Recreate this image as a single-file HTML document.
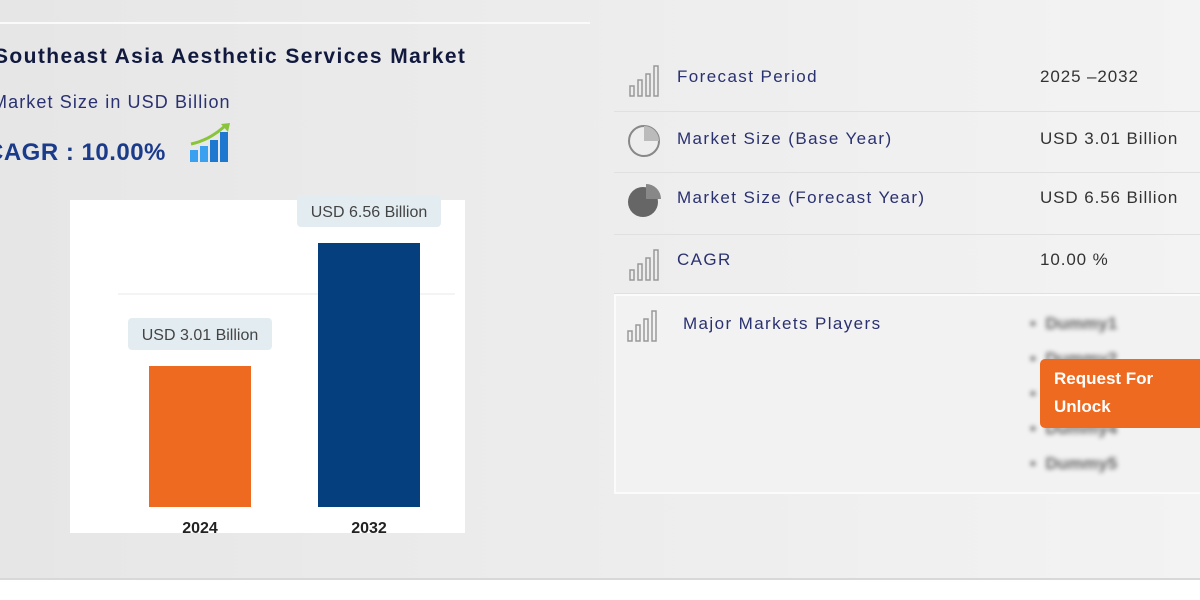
<!DOCTYPE html>
<html><head><meta charset="utf-8"><style>
body{margin:0;width:1200px;height:600px;overflow:hidden;font-family:"Liberation Sans",sans-serif;background:#fff;position:relative}
.bg{position:absolute;left:0;top:0;width:1200px;height:580px;background:linear-gradient(90deg,#e6e6e6 0%,#ececec 45%,#f3f3f3 100%)}
.abs{position:absolute}
.row{position:absolute;left:614px;width:586px;border-bottom:1.5px solid #e0e0e0}
.lbl{position:absolute;left:677px;font-size:17px;color:#2a3170;letter-spacing:1.4px}
.val{position:absolute;left:1040px;font-size:17px;color:#333;letter-spacing:0.9px}
</style></head><body>
<div class="bg"></div>
<div class="abs" style="left:0;top:22px;width:590px;height:2px;background:#fafafa"></div>
<div class="abs" style="left:0;top:578px;width:1200px;height:2px;background:#d8d8d8"></div>
<div class="abs" style="left:-6px;top:45px;font-size:21px;font-weight:bold;color:#111a3e;letter-spacing:1.4px">Southeast Asia Aesthetic Services Market</div>
<div class="abs" style="left:-8px;top:92px;font-size:18px;color:#2a3170;letter-spacing:1.1px">Market Size in USD Billion</div>
<div class="abs" style="left:-14px;top:139px;font-size:24px;font-weight:bold;color:#1a3a8a;letter-spacing:0.5px">CAGR : 10.00%</div>
<svg class="abs" style="left:188px;top:122px" width="44" height="42">
<rect x="2" y="28" width="8" height="12" fill="#3aa0f0"/><rect x="12" y="24" width="8" height="16" fill="#3aa0f0"/><rect x="22" y="18" width="8" height="22" fill="#1e78d0"/><rect x="32" y="10" width="8" height="30" fill="#1e78d0"/>
<path d="M3 22 Q22 18 38 3" stroke="#8ac43a" stroke-width="3" fill="none"/><path d="M33 2 L42 1 L40 10Z" fill="#8ac43a"/></svg>
<svg class="abs" id="chart" style="left:0;top:0" width="600" height="580"></svg>

<div class="row" style="top:47px;height:64px"></div>
<div class="row" style="top:111px;height:61px"></div>
<div class="row" style="top:172px;height:62px"></div>
<div class="row" style="top:234px;height:59px"></div>
<div class="abs" style="left:614px;top:294px;width:590px;height:196px;border:2px solid #fbfbfb;background:#f2f2f2"></div>
<svg class="abs" style="left:627px;top:62px" width="34" height="36"><g stroke="#999" fill="none" stroke-width="1.5"><rect x="3" y="24" width="4" height="10"/><rect x="11" y="18" width="4" height="16"/><rect x="19" y="12" width="4" height="22"/><rect x="27" y="4" width="4" height="30"/></g></svg>
<svg class="abs" style="left:625px;top:122px" width="38" height="38"><circle cx="19" cy="19" r="15" stroke="#888" stroke-width="2" fill="none"/><path d="M19 19 L19 4 A15 15 0 0 1 34 19Z" fill="#bbb"/></svg>
<svg class="abs" style="left:625px;top:182px" width="38" height="38"><circle cx="18" cy="20" r="15" fill="#666"/><path d="M21 17 L21 2 A15 15 0 0 1 36 17Z" fill="#888"/></svg>
<svg class="abs" style="left:627px;top:246px" width="34" height="36"><g stroke="#999" fill="none" stroke-width="1.5"><rect x="3" y="24" width="4" height="10"/><rect x="11" y="18" width="4" height="16"/><rect x="19" y="12" width="4" height="22"/><rect x="27" y="4" width="4" height="30"/></g></svg>
<svg class="abs" style="left:625px;top:307px" width="34" height="36"><g stroke="#999" fill="none" stroke-width="1.5"><rect x="3" y="24" width="4" height="10"/><rect x="11" y="18" width="4" height="16"/><rect x="19" y="12" width="4" height="22"/><rect x="27" y="4" width="4" height="30"/></g></svg>
<div class="lbl" style="top:67px">Forecast Period</div>
<div class="val" style="top:67px">2025 –2032</div>
<div class="lbl" style="top:129px">Market Size (Base Year)</div>
<div class="val" style="top:129px">USD 3.01 Billion</div>
<div class="lbl" style="top:188px">Market Size (Forecast Year)</div>
<div class="val" style="top:188px">USD 6.56 Billion</div>
<div class="lbl" style="top:250px">CAGR</div>
<div class="val" style="top:250px">10.00 %</div>
<div class="lbl" style="left:683px;top:314px">Major Markets Players</div>
<div class="abs" style="left:1030px;top:306px;width:130px;height:170px;filter:blur(2.5px);color:#666;font-size:17px;font-weight:bold;line-height:35px">•&nbsp;&nbsp;Dummy1<br>•&nbsp;&nbsp;Dummy2<br>•&nbsp;&nbsp;Dummy3<br>•&nbsp;&nbsp;Dummy4<br>•&nbsp;&nbsp;Dummy5</div>
<div class="abs" style="left:1040px;top:359px;width:170px;height:69px;background:#ef6a21;border-radius:5px;color:#fff;font-size:17px;font-weight:bold;line-height:28px;padding:6px 14px;box-sizing:border-box">Request For<br>Unlock</div>
<script>
const categories=["2024","2032"];
const values=[3.01,6.56];
const labels=["USD 3.01 Billion","USD 6.56 Billion"];
const colors=["#ef6a21","#063f7e"];
const NS="http://www.w3.org/2000/svg";
const svg=document.getElementById("chart");
function mk(t,a){const e=document.createElementNS(NS,t);for(const k in a)e.setAttribute(k,a[k]);svg.appendChild(e);return e;}
const base=507;
function y(v){return base-(36.7+34.65*v);}
function x(i){return 149+i*169;}
const bw=102;
let r=mk("rect",{x:70,y:200,width:395,height:333,fill:"#fff"});


let g=mk("line",{x1:118,x2:455,y1:294,y2:294,stroke:"#f0f0f0","stroke-width":1.5});


values.forEach((v,i)=>{
 const b=mk("rect",{x:x(i),y:y(v),width:bw,height:base-y(v),fill:colors[i]});
 
 
 const cx=x(i)+bw/2, ty=y(v)-48;
 const lb=mk("rect",{x:cx-72,y:ty,width:144,height:32,rx:4,fill:"#e3edf1"});
 
 
 const t=mk("text",{x:cx,y:ty+22,"text-anchor":"middle","font-size":16,fill:"#444"});
 t.textContent=labels[i];
 
 
 const c=mk("text",{x:cx,y:533,"text-anchor":"middle","font-size":16,"font-weight":"bold",fill:"#222"});
 c.textContent=categories[i];
 
 
});
</script>
</body></html>
